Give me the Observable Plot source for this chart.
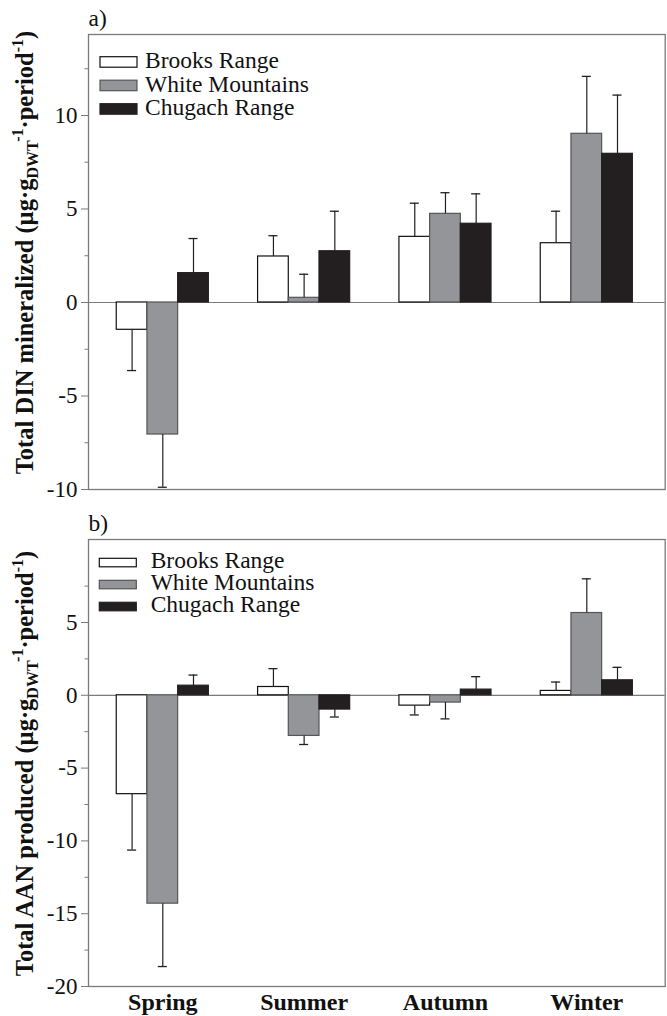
<!DOCTYPE html>
<html>
<head>
<meta charset="utf-8">
<script src="https://cdn.jsdelivr.net/npm/d3@7"></script>
<script src="https://cdn.jsdelivr.net/npm/@observablehq/plot@0.6"></script>
<style>
  html, body { margin: 0; padding: 0; background: white; }
  #chart svg { display: block; }
</style>
</head>
<body>
<div id="chart"></div>
<script>
const seasons = ["Spring", "Summer", "Autumn", "Winter"];
const sites = ["Brooks Range", "White Mountains", "Chugach Range"];

// Panel a) Total DIN mineralized
const dinBrooks   = [-1.46, 2.46, 3.51, 3.17];
const dinBrooksSE = [2.18, 1.11, 1.80, 1.71];
const dinWhite    = [-7.06, 0.25, 4.74, 9.02];
const dinWhiteSE  = [2.82, 1.26, 1.13, 3.07];
const dinChugach  = [1.57, 2.74, 4.21, 7.95];
const dinChugachSE= [1.85, 2.14, 1.60, 3.14];

// Panel b) Total AAN produced
const aanBrooks   = [-6.79, 0.57, -0.71, 0.30];
const aanBrooksSE = [3.84, 1.26, 0.64, 0.61];
const aanWhite    = [-14.31, -2.79, -0.50, 5.65];
const aanWhiteSE  = [4.32, 0.59, 1.12, 2.35];
const aanChugach  = [0.66, -0.98, 0.39, 1.03];
const aanChugachSE= [0.73, 0.51, 0.89, 0.89];

const dinTicks = [-10, -5, 0, 5, 10];
const dinMinor = [-7.5, -2.5, 2.5, 7.5, 12.5];
const aanTicks = [-20, -15, -10, -5, 0, 5];
const aanMinor = [-17.5, -12.5, -7.5, -2.5, 2.5, 7.5];

const fills   = ["#ffffff", "#939598", "#231f20"];
const strokes = ["#111111", "#555555", "#231f20"];
const FONT = "Liberation Serif, Times New Roman, serif";
const W = 0.2172;     // bar width in season units
const CAP = 0.032;    // half cap width

function rows(vals, ses) {
  return seasons.flatMap((s, i) => sites.map((site, j) => ({
    i, j, season: s, site, value: vals[j][i], se: ses[j][i],
    end: vals[j][i] + (vals[j][i] < 0 ? -1 : 1) * ses[j][i]
  })));
}

function panel({data, height, marginTop, marginBottom, yDomain, ticks, minor, letter, showX, title, legend}) {
  const x0 = d => d.i - 1.5 * W + d.j * W;
  const xc = d => d.i - 1.5 * W + (d.j + 0.5) * W;
  const marks = [
    Plot.ruleY([0], {stroke: "#7a7a7a", strokeWidth: 1.2}),
    ...sites.map((site, j) => Plot.rectY(data.filter(d => d.j === j), {
      x1: x0, x2: d => x0(d) + W, y1: 0, y2: "value",
      fill: fills[j], stroke: strokes[j], strokeWidth: 1.2
    })),
    Plot.ruleX(data, {x: xc, y1: "value", y2: "end", stroke: "#231f20", strokeWidth: 1.2}),
    Plot.ruleY(data, {y: "end", x1: d => xc(d) - CAP, x2: d => xc(d) + CAP, stroke: "#231f20", strokeWidth: 1.3}),
    Plot.frame({stroke: "#7a7a7a", strokeWidth: 1.3}),
    Plot.axisY({ticks, tickSize: 7, tickPadding: 4, tickFormat: d => String(d), stroke: "#7a7a7a", fill: "#111",
      fontSize: 23, fontFamily: FONT, label: null}),
    Plot.axisY({ticks: minor, tickSize: 3.5, tickFormat: () => "", stroke: "#7a7a7a", label: null}),
    Plot.text([letter], {frameAnchor: "top-left", dy: -9, dx: 0, textAnchor: "start", lineAnchor: "bottom",
      fontSize: 23.5, fontFamily: FONT, fill: "#111"})
  ];
  if (showX) marks.push(Plot.axisX({ticks: [0, 1, 2, 3], tickFormat: i => seasons[i], tickSize: 0, tickPadding: 6,
    fontSize: 24, fontWeight: "bold", fontFamily: FONT, fill: "#111", label: null}));
  const svg = Plot.plot({
    width: 667, height, marginLeft: 88, marginRight: 2.3, marginTop, marginBottom,
    style: {fontFamily: FONT, background: "white", color: "#111", overflow: "visible"},
    x: {type: "linear", domain: [-0.5257, 3.5547], axis: null},
    y: {domain: yDomain, axis: null},
    marks
  });
  const s = d3.select(svg);
  // rich y-axis title
  const t = s.append("text")
    .attr("transform", `translate(${title.x},${title.y}) rotate(-90)`)
    .attr("text-anchor", "middle")
    .attr("font-family", FONT).attr("font-weight", "bold").attr("font-size", 24.5).attr("fill", "#111");
  t.append("tspan").text(title.main + " (µg·g");
  t.append("tspan").attr("font-size", 16).attr("dy", 5).text("DWT");
  t.append("tspan").attr("font-size", 16).attr("dy", -15).text("-1");
  t.append("tspan").attr("dy", 10).text("·period");
  t.append("tspan").attr("font-size", 16).attr("dy", -10).text("-1");
  t.append("tspan").attr("dy", 10).text(")");
  // legend inside frame
  const g = s.append("g").attr("font-family", FONT).attr("font-size", 23.5).attr("fill", "#111")
    .attr("text-anchor", "start");
  sites.forEach((site, j) => {
    g.append("rect").attr("x", legend.sx).attr("y", legend.sy + j * legend.step)
      .attr("width", 37).attr("height", legend.sh)
      .attr("fill", fills[j]).attr("stroke", strokes[j]).attr("stroke-width", 1.2);
    g.append("text").attr("x", legend.tx).attr("y", legend.ty + j * legend.step)
      .attr("text-anchor", "start").text(site);
  });
  return svg;
}

const chart = document.getElementById("chart");
chart.append(panel({
  data: rows([dinBrooks, dinWhite, dinChugach], [dinBrooksSE, dinWhiteSE, dinChugachSE]),
  height: 500, marginTop: 34, marginBottom: 11, yDomain: [-10, 14.33],
  ticks: dinTicks, minor: dinMinor, letter: "a)", showX: false,
  title: {x: 33, y: 252.5, main: "Total DIN mineralized"},
  legend: {sx: 100, sy: 56.7, sh: 10.5, step: 23.5, tx: 145, ty: 68.3}
}));
chart.append(panel({
  data: rows([aanBrooks, aanWhite, aanChugach], [aanBrooksSE, aanWhiteSE, aanChugachSE]),
  height: 516, marginTop: 39, marginBottom: 30, yDomain: [-20, 10.7],
  ticks: aanTicks, minor: aanMinor, letter: "b)", showX: true,
  title: {x: 33, y: 263.5, main: "Total AAN produced"},
  legend: {sx: 99.3, sy: 58.3, sh: 8.5, step: 22, tx: 150.7, ty: 68.3}
}));
</script>
</body>
</html>
